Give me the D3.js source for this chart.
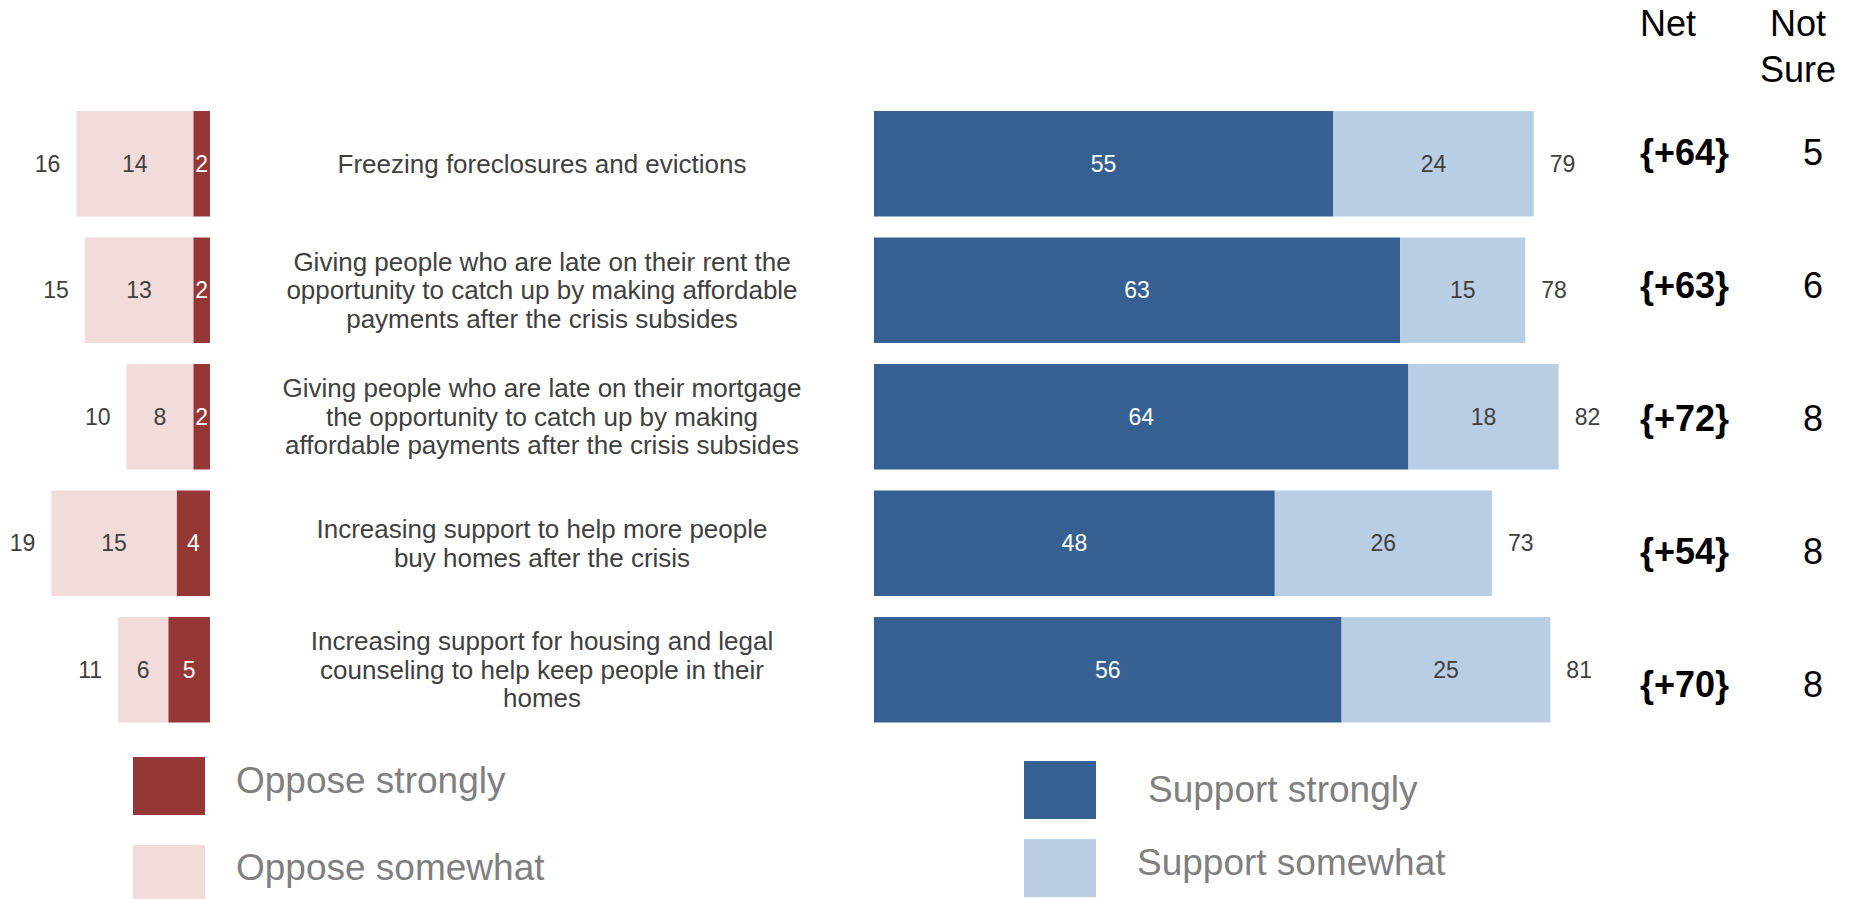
<!DOCTYPE html>
<html>
<head>
<meta charset="utf-8">
<script src="https://cdn.jsdelivr.net/npm/d3@7"></script>
<style>
  html, body { margin: 0; padding: 0; background: #ffffff; }
  svg { display: block; font-family: "Liberation Sans", Arial, sans-serif; }
</style>
</head>
<body>
<svg id="chart" width="1850" height="899"></svg>
<script>
// Housing relief proposals: oppose (left) vs support (right), plus net and not-sure columns
const categories = [
  "Freezing foreclosures and evictions",
  "Giving people who are late on their rent the opportunity to catch up by making affordable payments after the crisis subsides",
  "Giving people who are late on their mortgage the opportunity to catch up by making affordable payments after the crisis subsides",
  "Increasing support to help more people buy homes after the crisis",
  "Increasing support for housing and legal counseling to help keep people in their homes"
];
const categoryLines = [
  ["Freezing foreclosures and evictions"],
  ["Giving people who are late on their rent the", "opportunity to catch up by making affordable", "payments after the crisis subsides"],
  ["Giving people who are late on their mortgage", "the opportunity to catch up by making", "affordable payments after the crisis subsides"],
  ["Increasing support to help more people", "buy homes after the crisis"],
  ["Increasing support for housing and legal", "counseling to help keep people in their", "homes"]
];
const opposeStrongly = [2, 2, 2, 4, 5];
const opposeSomewhat = [14, 13, 8, 15, 6];
const opposeTotal = [16, 15, 10, 19, 11];
const supportStrongly = [55, 63, 64, 48, 56];
const supportSomewhat = [24, 15, 18, 26, 25];
const supportTotal = [79, 78, 82, 73, 81];
const netSupport = [64, 63, 72, 54, 70];
const notSure = [5, 6, 8, 8, 8];
const legendOppose = ["Oppose strongly", "Oppose somewhat"];
const legendSupport = ["Support strongly", "Support somewhat"];
const headerNet = ["Net"];
const headerNotSure = ["Not", "Sure"];

const colors = {
  opposeStrong: "#953735",
  opposeSome: "#F2DCDB",
  supportStrong: "#376092",
  supportSome: "#B9CDE5",
  label: "#404040",
  legend: "#7F7F7F"
};

const svg = d3.select("#chart");

// scales
const y = d3.scaleBand().domain(categories).range([100.5, 733]).paddingInner(0.166).paddingOuter(0.083);
const ySide = d3.scalePoint().domain(categories).range([152.4, 684.4]);
const xLeft = d3.scaleLinear().domain([0, 25]).range([210, 1.25]);
const xRight = d3.scaleLinear().domain([0, 100]).range([874, 1709]);

const rows = categories.map((c, i) => ({
  cat: c, i,
  os: opposeStrongly[i], osw: opposeSomewhat[i], ot: opposeTotal[i],
  ss: supportStrongly[i], ssw: supportSomewhat[i], st: supportTotal[i],
  net: netSupport[i], ns: notSure[i]
}));

const valueFont = 23;
const gap = 16;

// ---- oppose bars (grow leftwards) ----
const left = svg.append("g");
left.selectAll("rect.os").data(rows).join("rect")
  .attr("x", d => xLeft(d.os)).attr("width", d => xLeft(0) - xLeft(d.os))
  .attr("y", d => y(d.cat)).attr("height", y.bandwidth())
  .attr("fill", colors.opposeStrong);
left.selectAll("rect.osw").data(rows).join("rect")
  .attr("x", d => xLeft(d.os + d.osw)).attr("width", d => xLeft(d.os) - xLeft(d.os + d.osw))
  .attr("y", d => y(d.cat)).attr("height", y.bandwidth())
  .attr("fill", colors.opposeSome);
left.selectAll("text.os").data(rows).join("text")
  .attr("x", d => (xLeft(0) + xLeft(d.os)) / 2)
  .attr("y", d => y(d.cat) + y.bandwidth() / 2).attr("dy", "0.35em")
  .attr("text-anchor", "middle").attr("font-size", valueFont).attr("fill", "#ffffff")
  .text(d => d.os);
left.selectAll("text.osw").data(rows).join("text")
  .attr("x", d => (xLeft(d.os) + xLeft(d.os + d.osw)) / 2)
  .attr("y", d => y(d.cat) + y.bandwidth() / 2).attr("dy", "0.35em")
  .attr("text-anchor", "middle").attr("font-size", valueFont).attr("fill", colors.label)
  .text(d => d.osw);
left.selectAll("text.ot").data(rows).join("text")
  .attr("x", d => xLeft(d.os + d.osw) - gap)
  .attr("y", d => y(d.cat) + y.bandwidth() / 2).attr("dy", "0.35em")
  .attr("text-anchor", "end").attr("font-size", valueFont).attr("fill", colors.label)
  .text(d => d.ot);

// ---- category labels ----
const lineH = 28.5;
const labels = svg.append("g");
rows.forEach(d => {
  const lines = categoryLines[d.i];
  const t = labels.append("text")
    .attr("text-anchor", "middle").attr("font-size", 26).attr("fill", colors.label);
  const cy = y(d.cat) + y.bandwidth() / 2;
  lines.forEach((ln, k) => {
    t.append("tspan").attr("x", 542)
      .attr("y", cy + (k - (lines.length - 1) / 2) * lineH)
      .attr("dy", "0.35em").text(ln);
  });
});

// ---- support bars ----
const right = svg.append("g");
right.selectAll("rect.ss").data(rows).join("rect")
  .attr("x", xRight(0)).attr("width", d => xRight(d.ss) - xRight(0))
  .attr("y", d => y(d.cat)).attr("height", y.bandwidth())
  .attr("fill", colors.supportStrong);
right.selectAll("rect.ssw").data(rows).join("rect")
  .attr("x", d => xRight(d.ss)).attr("width", d => xRight(d.ss + d.ssw) - xRight(d.ss))
  .attr("y", d => y(d.cat)).attr("height", y.bandwidth())
  .attr("fill", colors.supportSome);
right.selectAll("text.ss").data(rows).join("text")
  .attr("x", d => (xRight(0) + xRight(d.ss)) / 2)
  .attr("y", d => y(d.cat) + y.bandwidth() / 2).attr("dy", "0.35em")
  .attr("text-anchor", "middle").attr("font-size", valueFont).attr("fill", "#ffffff")
  .text(d => d.ss);
right.selectAll("text.ssw").data(rows).join("text")
  .attr("x", d => (xRight(d.ss) + xRight(d.ss + d.ssw)) / 2)
  .attr("y", d => y(d.cat) + y.bandwidth() / 2).attr("dy", "0.35em")
  .attr("text-anchor", "middle").attr("font-size", valueFont).attr("fill", colors.label)
  .text(d => d.ssw);
right.selectAll("text.st").data(rows).join("text")
  .attr("x", d => xRight(d.ss + d.ssw) + gap)
  .attr("y", d => y(d.cat) + y.bandwidth() / 2).attr("dy", "0.35em")
  .attr("text-anchor", "start").attr("font-size", valueFont).attr("fill", colors.label)
  .text(d => d.st);

// ---- net and not-sure columns ----
const side = svg.append("g").attr("font-size", 36).attr("fill", "#000000");
side.append("text").attr("x", 1640).attr("y", 36).attr("text-anchor", "start")
  .text(headerNet[0]);
const ns = side.append("text").attr("text-anchor", "middle");
headerNotSure.forEach((ln, k) => {
  ns.append("tspan").attr("x", 1798).attr("y", 36 + k * 45.7).text(ln);
});
side.selectAll("text.net").data(rows).join("text")
  .attr("x", 1640).attr("y", d => ySide(d.cat)).attr("dy", "0.35em")
  .attr("text-anchor", "start").attr("font-weight", "bold")
  .text(d => `{+${d.net}}`);
side.selectAll("text.ns").data(rows).join("text")
  .attr("x", 1813).attr("y", d => ySide(d.cat)).attr("dy", "0.35em")
  .attr("text-anchor", "middle")
  .text(d => d.ns);

// ---- legends ----
const legend = svg.append("g").attr("font-size", 37).attr("fill", colors.legend);
const opposeLegend = [
  { label: legendOppose[0], color: colors.opposeStrong, x: 133, y: 757, tx: 236, ty: 793 },
  { label: legendOppose[1], color: colors.opposeSome, x: 133, y: 845, tx: 236, ty: 880 }
];
const supportLegend = [
  { label: legendSupport[0], color: colors.supportStrong, x: 1024, y: 761, tx: 1148, ty: 802 },
  { label: legendSupport[1], color: colors.supportSome, x: 1024, y: 839, tx: 1137, ty: 875 }
];
opposeLegend.concat(supportLegend).forEach(l => {
  legend.append("rect").attr("x", l.x).attr("y", l.y).attr("width", 72).attr("height", 58)
    .attr("fill", l.color);
  legend.append("text").attr("x", l.tx).attr("y", l.ty).text(l.label);
});
</script>
</body>
</html>
